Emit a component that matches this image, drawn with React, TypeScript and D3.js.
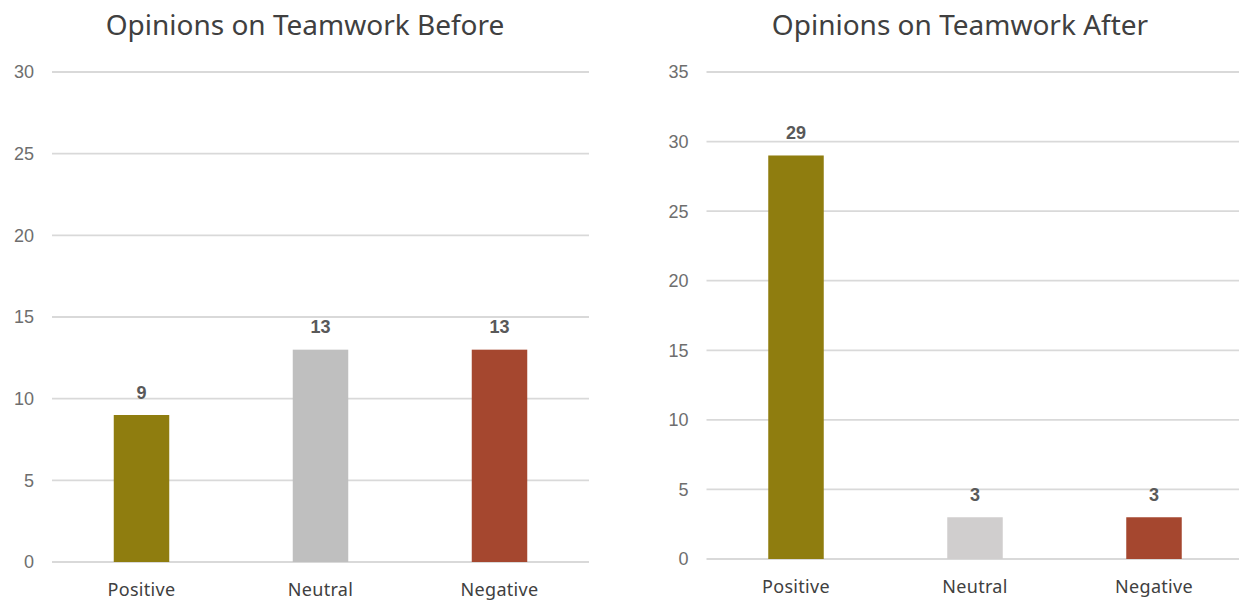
import React from "react";
import * as d3 from "d3";

// Survey responses, before and after the teamwork programme
const categories = ["Positive", "Neutral", "Negative"];
const beforeValues = [9, 13, 13];
const afterValues = [29, 3, 3];
const beforeTicks = [0, 5, 10, 15, 20, 25, 30];
const afterTicks = [0, 5, 10, 15, 20, 25, 30, 35];
const beforeColors = ["#8F7D0F", "#BFBFBF", "#A5472F"];
const afterColors = ["#8F7D0F", "#D0CECE", "#A5472F"];

const W = 1239;
const H = 600;

type PanelProps = {
  title: string;
  titleX: number;
  values: number[];
  ticks: number[];
  colors: string[];
  x0: number;
  x1: number;
  yTop: number;
  yZero: number;
};

function Panel({ title, titleX, values, ticks, colors, x0, x1, yTop, yZero }: PanelProps) {
  const yMax = ticks[ticks.length - 1];
  const x = d3
    .scaleBand<string>()
    .domain(categories)
    .range([x0, x1])
    .paddingInner(0.69)
    .paddingOuter(0.345);
  const y = d3.scaleLinear().domain([0, yMax]).range([yZero, yTop]);

  return (
    <g>
      <text
        x={titleX}
        y={35}
        textAnchor="middle"
        fontFamily="'Noto Sans', sans-serif"
        fontSize={28}
        fill="#404040"
      >
        {title}
      </text>
      {ticks.map((t) => (
        <g key={t}>
          <line x1={x0} x2={x1} y1={y(t)} y2={y(t)} stroke="#D9D9D9" strokeWidth={1.8} />
          <text
            x={x0 - 18}
            y={y(t)}
            dy="0.36em"
            textAnchor="end"
            fontFamily="'Liberation Sans', Arial, sans-serif"
            fontSize={18}
            fill="#6E6E6E"
          >
            {t}
          </text>
        </g>
      ))}
      {categories.map((c, i) => {
        const bx = x(c) as number;
        const bw = x.bandwidth();
        return (
          <g key={c}>
            <rect x={bx} y={y(values[i])} width={bw} height={yZero - y(values[i])} fill={colors[i]} />
            <text
              x={bx + bw / 2}
              y={y(values[i]) - 16.5}
              textAnchor="middle"
              fontFamily="'Liberation Sans', Arial, sans-serif"
              fontWeight="bold"
              fontSize={18}
              fill="#595959"
            >
              {values[i]}
            </text>
            <text
              x={bx + bw / 2}
              y={yZero + 34}
              textAnchor="middle"
              fontFamily="'Noto Sans', sans-serif"
              fontSize={18}
              letterSpacing={0.3}
              fill="#404040"
            >
              {c}
            </text>
          </g>
        );
      })}
    </g>
  );
}

export default function App() {
  return (
    <svg
      width={W}
      height={H}
      style={{ position: "absolute", left: 0, top: 0, background: "#FFFFFF" }}
    >
      <rect width={W} height={H} fill="#FFFFFF" />
      <Panel
        title="Opinions on Teamwork Before"
        titleX={305}
        values={beforeValues}
        ticks={beforeTicks}
        colors={beforeColors}
        x0={52}
        x1={589}
        yTop={72}
        yZero={562}
      />
      <Panel
        title="Opinions on Teamwork After"
        titleX={960}
        values={afterValues}
        ticks={afterTicks}
        colors={afterColors}
        x0={706.5}
        x1={1243.5}
        yTop={72}
        yZero={559}
      />
    </svg>
  );
}
